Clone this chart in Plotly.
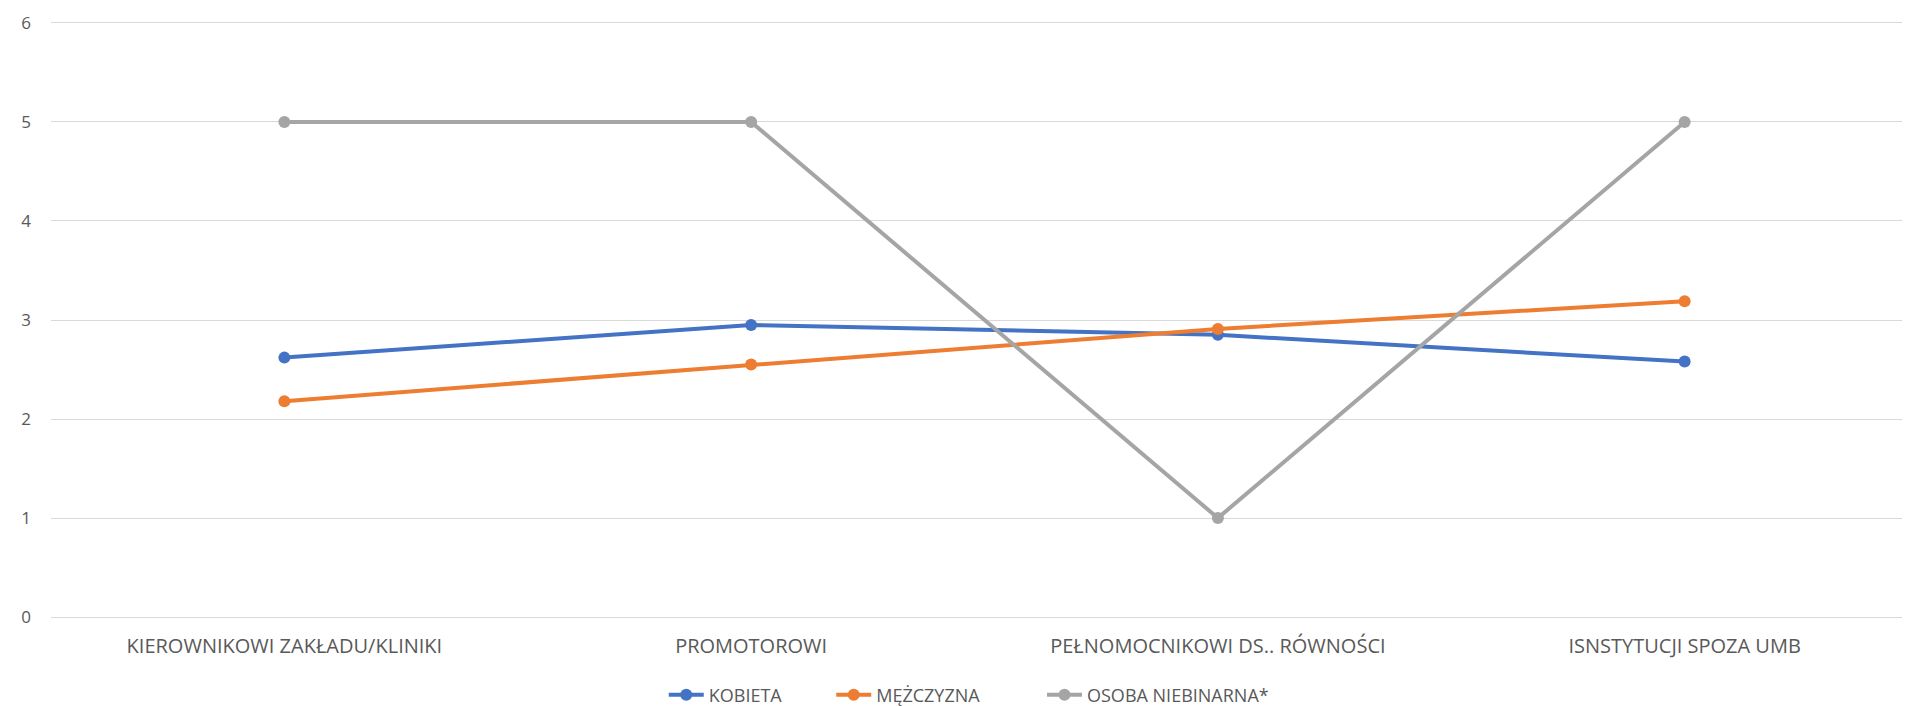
import plotly.graph_objects as go

categories = ["KIEROWNIKOWI ZAKŁADU/KLINIKI", "PROMOTOROWI", "PEŁNOMOCNIKOWI DS.. RÓWNOŚCI", "ISNSTYTUCJI SPOZA UMB"]
kobieta = [2.62, 2.95, 2.85, 2.58]
mezczyzna = [2.18, 2.55, 2.91, 3.19]
osoba_niebinarna = [5, 5, 1, 5]

series = [
    ("KOBIETA", kobieta, "#4472C4"),
    ("MĘŻCZYZNA", mezczyzna, "#ED7D31"),
    ("OSOBA NIEBINARNA*", osoba_niebinarna, "#A5A5A5"),
]

FONT = "Open Sans, sans-serif"
TXT = "#595959"

legend_ids = ["legend", "legend2", "legend3"]
legend_x = [0.3282, 0.4179, 0.5308]

fig = go.Figure()
for (name, vals, color), lid in zip(series, legend_ids):
    fig.add_trace(go.Scatter(
        x=categories, y=vals, name=name, mode="lines+markers",
        line=dict(color=color, width=4),
        marker=dict(color=color, size=12),
        legend=lid,
    ))

legend_common = dict(orientation="h", xanchor="left", y=-0.127, yanchor="middle",
                     font=dict(family=FONT, size=18, color=TXT),
                     itemwidth=35, tracegroupgap=0, bgcolor="rgba(0,0,0,0)",
                     borderwidth=0)

fig.update_layout(
    width=1910, height=706,
    margin=dict(l=43, r=0, t=13, b=89),
    paper_bgcolor="white", plot_bgcolor="white",
    font=dict(family=FONT, size=18, color=TXT),
    showlegend=True,
    legend=dict(x=legend_x[0], **legend_common),
    legend2=dict(x=legend_x[1], **legend_common),
    legend3=dict(x=legend_x[2], **legend_common),
    xaxis=dict(type="category", range=[-0.5, 3.5], showgrid=False, zeroline=False,
               showline=False, ticks="", ticklabelstandoff=13,
               tickfont=dict(family=FONT, size=20, color=TXT)),
    yaxis=dict(range=[-0.02, 6.02], tickvals=[0, 1, 2, 3, 4, 5, 6], showgrid=True,
               gridcolor="#D9D9D9", gridwidth=1, zeroline=False, showline=False,
               ticks="", ticklabelstandoff=19,
               tickfont=dict(family=FONT, size=17, color=TXT)),
)

fig.write_html("out.html")
